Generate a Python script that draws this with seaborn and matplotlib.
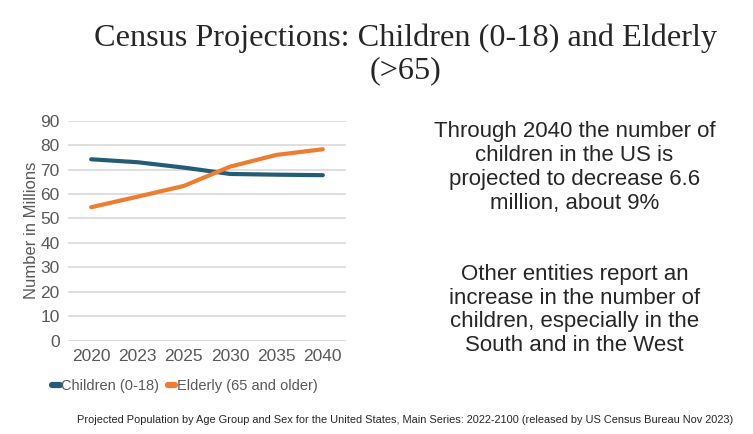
import numpy as np
import pandas as pd
import seaborn as sns
import matplotlib.pyplot as plt

years = ['2020', '2023', '2025', '2030', '2035', '2040']
children = [74.2, 73.0, 70.8, 68.2, 67.9, 67.7]
elderly = [54.6, 58.9, 63.3, 71.2, 76.0, 78.3]
series_names = ['Children (0-18)', 'Elderly (65 and older)']
colors = ['#245C78', '#ED7D31']

df = pd.DataFrame({'Year': years, series_names[0]: children, series_names[1]: elderly})
long_df = df.melt(id_vars='Year', var_name='Group', value_name='Value')

sns.set_style('white')
plt.rcParams['font.family'] = ['Liberation Sans', 'DejaVu Sans']

fig = plt.figure(figsize=(7.53, 4.34), dpi=100)
ax = fig.add_axes([0.0903, 0.215, 0.3692, 0.507])

sns.lineplot(data=long_df, x='Year', y='Value', hue='Group', palette=colors,
             linewidth=3.0, ax=ax, sort=False)
for line in ax.lines:
    line.set_solid_capstyle('round')

ax.set_ylim(0, 90)
ax.set_xlim(-0.5, 5.5)
ax.set_yticks(np.arange(0, 91, 10))
ax.yaxis.grid(True, color='#D9D9D9', linewidth=1.2)
ax.set_axisbelow(True)
for s in ax.spines.values():
    s.set_visible(False)
ax.tick_params(axis='both', labelsize=12.5, colors='#595959', length=0, pad=6)
ax.set_xlabel('')
ax.set_ylabel('Number in Millions', fontsize=12, color='#595959', labelpad=1)

leg = ax.legend(loc='upper center', bbox_to_anchor=(0.42, -0.115), ncol=2,
                frameon=False, fontsize=10.5, handlelength=0.5, handletextpad=0.1,
                columnspacing=0.6)
for t in leg.get_texts():
    t.set_color('#595959')
for h in leg.legend_handles:
    h.set_linewidth(4.5)
    h.set_solid_capstyle('round')

fig.text(0.539, 0.912, 'Census Projections: Children (0-18) and Elderly',
         ha='center', va='center', fontsize=23.2, family='Liberation Serif')
fig.text(0.539, 0.838, '(>65)', ha='center', va='center', fontsize=23.2,
         family='Liberation Serif')

fig.text(0.763, 0.614, 'Through 2040 the number of\nchildren in the US is\n'
         'projected to decrease 6.6\nmillion, about 9%',
         ha='center', va='center', fontsize=16, linespacing=1.17)
fig.text(0.763, 0.286, 'Other entities report an\nincrease in the number of\n'
         'children, especially in the\nSouth and in the West',
         ha='center', va='center', fontsize=16, linespacing=1.17)

fig.text(0.538, 0.032, 'Projected Population by Age Group and Sex for the United States, '
         'Main Series: 2022-2100 (released by US Census Bureau Nov 2023)',
         ha='center', va='center', fontsize=7.9)

fig.savefig('out.png', dpi=100)
